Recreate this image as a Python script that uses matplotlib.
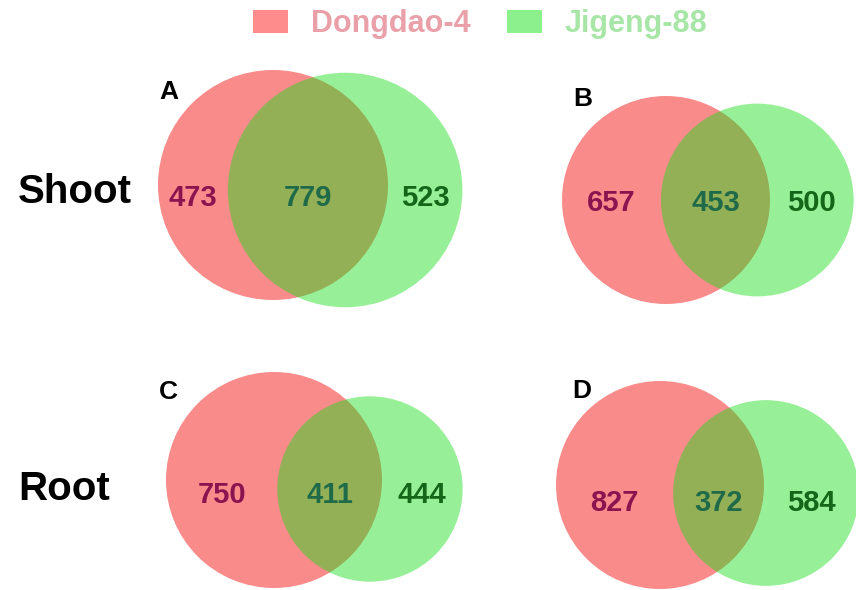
import numpy as np
import matplotlib.pyplot as plt
from matplotlib.patches import Circle, Patch

plt.rcParams['font.family'] = ['Liberation Sans', 'DejaVu Sans']

# DEG counts per panel: unique to each cultivar and shared
panels = ['A', 'B', 'C', 'D']
only_dongdao = [473, 657, 750, 827]
shared = [779, 453, 411, 372]
only_jigeng = [523, 500, 444, 584]
rows = ['Shoot', 'Root']
cultivars = ['Dongdao-4', 'Jigeng-88']

# layout (pixels): centre and radius of the Dongdao circle, vertical shift of the Jigeng circle
red_centre = [(273, 185), (666, 200), (274, 480), (660, 485)]
red_radius = [115, 104, 108, 104]
green_dy = [5, 0, 9, 8]
label_y = [198, 203, 495, 503]
letter_pos = [(169, 92), (583, 99), (168, 392), (582, 391)]
row_y = [192, 489]

red_fc = (245 / 255, 45 / 255, 45 / 255, 0.55)
green_fc = (25 / 255, 222 / 255, 25 / 255, 0.45)
num_colors = ['#8a1450', '#1f6a48', '#146618']


def lens_area(r1, r2, d):
    if d >= r1 + r2:
        return 0.0
    if d <= abs(r1 - r2):
        return np.pi * min(r1, r2) ** 2
    a1 = r1 ** 2 * np.arccos((d ** 2 + r1 ** 2 - r2 ** 2) / (2 * d * r1))
    a2 = r2 ** 2 * np.arccos((d ** 2 + r2 ** 2 - r1 ** 2) / (2 * d * r2))
    k = 0.5 * np.sqrt((-d + r1 + r2) * (d + r1 - r2) * (d - r1 + r2) * (d + r1 + r2))
    return a1 + a2 - k


def centre_distance(r1, r2, target):
    lo, hi = abs(r1 - r2), r1 + r2
    for _ in range(60):
        mid = 0.5 * (lo + hi)
        if lens_area(r1, r2, mid) > target:
            lo = mid
        else:
            hi = mid
    return 0.5 * (lo + hi)


fig = plt.figure(figsize=(8.56, 5.9), dpi=100)
ax = fig.add_axes([0, 0, 1, 1])
ax.set_xlim(0, 856)
ax.set_ylim(590, 0)
ax.axis('off')

for i in range(4):
    n1 = only_dongdao[i] + shared[i]
    n2 = only_jigeng[i] + shared[i]
    r1 = red_radius[i]
    scale = np.pi * r1 ** 2 / n1          # px^2 per gene
    r2 = np.sqrt(n2 * scale / np.pi)
    d = centre_distance(r1, r2, shared[i] * scale)
    x1, y1 = red_centre[i]
    dy = green_dy[i]
    x2, y2 = x1 + np.sqrt(d ** 2 - dy ** 2), y1 + dy

    ax.add_patch(Circle((x1, y1), r1, fc=red_fc, ec='none'))
    ax.add_patch(Circle((x2, y2), r2, fc=green_fc, ec='none'))

    # region labels sit midway between the circle edges
    xs = [(x1 - r1 + x2 - r2) / 2, (x2 - r2 + x1 + r1) / 2, (x1 + r1 + x2 + r2) / 2]
    vals = [only_dongdao[i], shared[i], only_jigeng[i]]
    for x, v, c in zip(xs, vals, num_colors):
        ax.text(x, label_y[i], str(v), ha='center', va='center', fontsize=21,
                fontweight='bold', color=c)

    ax.text(*letter_pos[i], panels[i], ha='center', va='center', fontsize=19,
            fontweight='bold', color='black')

for name, y in zip(rows, row_y):
    ax.text(18, y, name, ha='left', va='center', fontsize=29, fontweight='bold')

handles = [Patch(fc='#ff8c8c', ec='none'), Patch(fc='#8cf08c', ec='none')]
leg = fig.legend(handles, cultivars, loc='center', bbox_to_anchor=(0.561, 0.959),
                 ncol=2, frameon=False, handlelength=1.15, handleheight=0.75,
                 handletextpad=0.75, columnspacing=1.2,
                 prop={'size': 22, 'weight': 'bold'})
for t, c in zip(leg.get_texts(), ['#eaa0a8', '#a8e6a8']):
    t.set_color(c)

fig.savefig('out.png', dpi=100)
